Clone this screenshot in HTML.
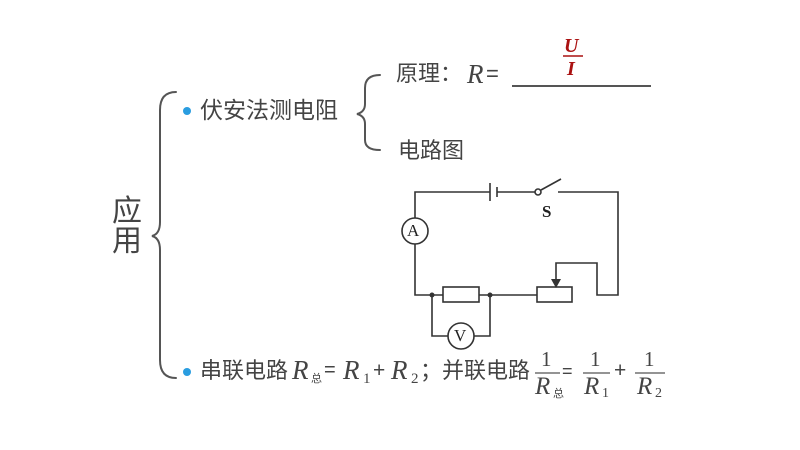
<!DOCTYPE html>
<html><head><meta charset="utf-8"><style>
body{margin:0;width:800px;height:450px;background:#fff;position:relative;overflow:hidden;font-family:"Liberation Sans","Noto Sans CJK SC",sans-serif;color:#444}
.t{position:absolute;white-space:nowrap;line-height:1}
.i{font-family:"Liberation Serif",serif;font-style:italic}
.s{font-family:"Liberation Serif",serif}
</style></head><body>
<svg width="800" height="450" style="position:absolute;left:0;top:0" fill="none">
<g stroke="#555" stroke-width="2" stroke-linecap="round">
<path d="M176,92 Q160,92 160,110 L160,222 Q160,234 152,236 Q160,238 160,250 L160,360 Q160,378 176,378"/>
<path d="M380,75 Q365,75 365,88 L365,104 Q365,112 357,114 Q365,116 365,124 L365,140 Q365,150 380,150"/>
</g>
<line x1="512" y1="86" x2="651" y2="86" stroke="#555" stroke-width="2"/>
<line x1="563" y1="56" x2="583" y2="56" stroke="#a11" stroke-width="1.5"/>
<circle cx="187" cy="111" r="4" fill="#2a9de0"/>
<circle cx="187" cy="372" r="4" fill="#2a9de0"/>
<g stroke="#333" stroke-width="1.6">
<polyline points="490,192 415,192 415,295 443,295"/>
<line x1="479" y1="295" x2="537" y2="295"/>
<line x1="490" y1="183" x2="490" y2="201"/>
<line x1="497" y1="187" x2="497" y2="197"/>
<line x1="497" y1="192" x2="535" y2="192"/>
<line x1="541" y1="190" x2="561" y2="179"/>
<polyline points="558,192 618,192 618,295 597,295 597,263 556,263 556,280"/>
<polyline points="432,295 432,336 448,336"/>
<polyline points="474,336 490,336 490,295"/>
<rect x="443" y="287" width="36" height="15" fill="#fff"/>
<rect x="537" y="287" width="35" height="15" fill="#fff"/>
<circle cx="415" cy="231" r="13" fill="#fff"/>
<circle cx="461" cy="336" r="13" fill="#fff"/>
<circle cx="538" cy="192" r="3" fill="#fff"/>
</g>
<polygon points="551,279 561,279 556,288" fill="#333"/>
<circle cx="432" cy="295" r="2.5" fill="#333"/>
<circle cx="490" cy="295" r="2.5" fill="#333"/>
<g stroke="#555" stroke-width="1.3">
<line x1="535" y1="373" x2="560" y2="373"/>
<line x1="583" y1="373" x2="610" y2="373"/>
<line x1="635" y1="373" x2="665" y2="373"/>
</g>
</svg>
<div class="t s" style="left:407px;top:222px;font-size:17px;color:#222">A</div>
<div class="t s" style="left:454px;top:327px;font-size:17px;color:#222">V</div>
<div class="t s" style="left:542px;top:203px;font-size:17px;font-weight:bold;color:#222">S</div>
<div class="t" style="left:112px;top:197px;font-size:30px;width:34px;line-height:30px">应<br>用</div>
<div class="t" style="left:200px;top:99px;font-size:23px">伏安法测电阻</div>
<div class="t" style="left:396px;top:63px;font-size:22px">原理：</div>
<div class="t i" style="left:467px;top:61px;font-size:27px">R</div>
<div class="t" style="left:486px;top:63px;font-size:22px">=</div>
<div class="t i" style="left:564px;top:36px;font-size:20px;font-weight:bold;color:#a11">U</div>
<div class="t i" style="left:567px;top:59px;font-size:20px;font-weight:bold;color:#a11">I</div>
<div class="t" style="left:398px;top:140px;font-size:22px">电路图</div>
<div class="t" style="left:200px;top:360px;font-size:22px">串联电路</div>
<div class="t i" style="left:292px;top:357px;font-size:27px">R</div>
<div class="t" style="left:311px;top:374px;font-size:11px">总</div>
<div class="t" style="left:324px;top:360px;font-size:20px">=</div>
<div class="t i" style="left:343px;top:357px;font-size:27px">R</div>
<div class="t s" style="left:363px;top:372px;font-size:15px">1</div>
<div class="t" style="left:373px;top:360px;font-size:21px">+</div>
<div class="t i" style="left:391px;top:357px;font-size:27px">R</div>
<div class="t s" style="left:411px;top:372px;font-size:15px">2</div>
<div class="t" style="left:420px;top:360px;font-size:22px">；并联电路</div>
<div class="t s" style="left:541px;top:349px;font-size:21px">1</div>
<div class="t i" style="left:535px;top:374px;font-size:25px">R</div>
<div class="t" style="left:553px;top:389px;font-size:11px">总</div>
<div class="t" style="left:562px;top:362px;font-size:18px">=</div>
<div class="t s" style="left:590px;top:349px;font-size:21px">1</div>
<div class="t i" style="left:584px;top:374px;font-size:25px">R</div>
<div class="t s" style="left:602px;top:387px;font-size:14px">1</div>
<div class="t" style="left:614px;top:360px;font-size:21px">+</div>
<div class="t s" style="left:644px;top:349px;font-size:21px">1</div>
<div class="t i" style="left:637px;top:374px;font-size:25px">R</div>
<div class="t s" style="left:655px;top:387px;font-size:14px">2</div>
</body></html>
